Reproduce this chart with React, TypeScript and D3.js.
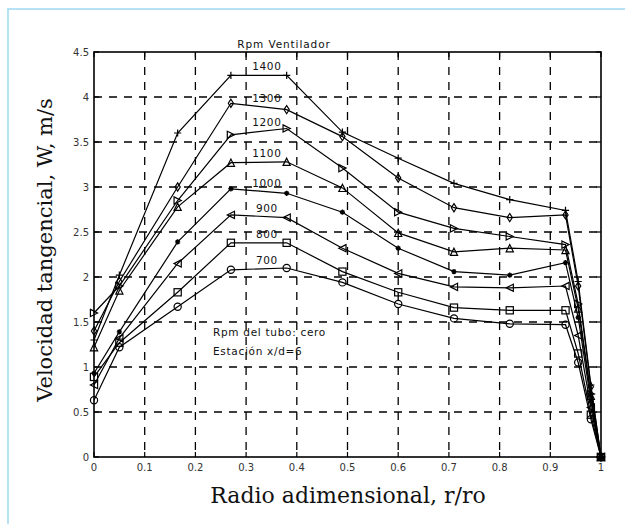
import * as d3 from "d3";

// r/ro stations
const radius = [0, 0.05, 0.165, 0.27, 0.38, 0.49, 0.6, 0.71, 0.82, 0.93, 0.955, 0.98, 1.0];

// fan rpm series
const rpmLabels = ["1400", "1300", "1200", "1100", "1000", "900", "800", "700"];
const markers = ["+", "d", ">", "^", "*", "<", "s", "o"];

const v1400 = [1.3, 2.02, 3.6, 4.24, 4.24, 3.61, 3.32, 3.04, 2.86, 2.74, 1.95, 0.8, 0];
const v1300 = [1.4, 1.95, 3.0, 3.93, 3.86, 3.56, 3.1, 2.77, 2.66, 2.69, 1.9, 0.78, 0];
const v1200 = [1.6, 1.9, 2.85, 3.58, 3.65, 3.21, 2.72, 2.54, 2.45, 2.36, 1.7, 0.7, 0];
const v1100 = [1.22, 1.85, 2.78, 3.27, 3.28, 2.99, 2.49, 2.28, 2.32, 2.3, 1.65, 0.68, 0];
const v1000 = [0.93, 1.39, 2.39, 2.98, 2.93, 2.72, 2.32, 2.06, 2.02, 2.16, 1.55, 0.62, 0];
const v900 = [0.8, 1.32, 2.15, 2.69, 2.66, 2.32, 2.04, 1.89, 1.88, 1.9, 1.35, 0.55, 0];
const v800 = [0.89, 1.27, 1.83, 2.38, 2.38, 2.06, 1.83, 1.66, 1.63, 1.63, 1.15, 0.47, 0];
const v700 = [0.63, 1.22, 1.67, 2.08, 2.1, 1.94, 1.7, 1.54, 1.48, 1.47, 1.05, 0.42, 0];

const series = [v1400, v1300, v1200, v1100, v1000, v900, v800, v700];

const xTicks = [0, 0.1, 0.2, 0.3, 0.4, 0.5, 0.6, 0.7, 0.8, 0.9, 1];
const yTicks = [0, 0.5, 1, 1.5, 2, 2.5, 3, 3.5, 4, 4.5];

const W = 625;
const H = 524;
const left = 94;
const right = 601;
const top = 52;
const bottom = 457;

const x = d3.scaleLinear().domain([0, 1]).range([left, right]);
const y = d3.scaleLinear().domain([0, 4.5]).range([bottom, top]);

const sans = "DejaVu Sans, sans-serif";
const serif = "DejaVu Serif, serif";

function Marker({ type, cx, cy }: { type: string; cx: number; cy: number }) {
  const s = 3.6;
  const common = { fill: "none", stroke: "#000", strokeWidth: 1.2 };
  switch (type) {
    case "+":
      return <path d={`M${cx - s},${cy}H${cx + s}M${cx},${cy - s}V${cy + s}`} {...common} />;
    case "d":
      return <path d={`M${cx},${cy - s - 0.5}L${cx + s - 1},${cy}L${cx},${cy + s + 0.5}L${cx - s + 1},${cy}Z`} {...common} />;
    case ">":
      return <path d={`M${cx - s},${cy - s}L${cx + s},${cy}L${cx - s},${cy + s}Z`} {...common} />;
    case "<":
      return <path d={`M${cx + s},${cy - s}L${cx - s},${cy}L${cx + s},${cy + s}Z`} {...common} />;
    case "^":
      return <path d={`M${cx},${cy - s}L${cx + s},${cy + s}L${cx - s},${cy + s}Z`} {...common} />;
    case "s":
      return <rect x={cx - s} y={cy - s} width={2 * s} height={2 * s} {...common} />;
    case "o":
      return <circle cx={cx} cy={cy} r={s} {...common} />;
    default: {
      const t = 2.6;
      return (
        <path
          d={`M${cx - t},${cy}H${cx + t}M${cx},${cy - t}V${cy + t}M${cx - t * 0.7},${cy - t * 0.7}L${cx + t * 0.7},${cy + t * 0.7}M${cx - t * 0.7},${cy + t * 0.7}L${cx + t * 0.7},${cy - t * 0.7}`}
          fill="none"
          stroke="#000"
          strokeWidth={1.4}
        />
      );
    }
  }
}

export default function App() {
  const line = d3
    .line<number>()
    .x((_, i) => x(radius[i]))
    .y((d) => y(d));

  return (
    <svg
      width={W}
      height={H}
      viewBox={`0 0 ${W} ${H}`}
      style={{ position: "absolute", left: 0, top: 0, background: "#fff" }}
    >
      {/* page frame */}
      <line x1={7} x2={W} y1={9} y2={9} stroke="#9fd9f3" strokeWidth={1.5} />
      <line x1={8} x2={8} y1={9} y2={H} stroke="#9fd9f3" strokeWidth={1.5} />

      {/* grid */}
      {xTicks.slice(1, -1).map((t) => (
        <line key={"gx" + t} x1={x(t)} x2={x(t)} y1={top} y2={bottom} stroke="#000" strokeWidth={1.3} strokeDasharray="8,7" />
      ))}
      {yTicks.slice(1, -1).map((t) => (
        <line key={"gy" + t} x1={left} x2={right} y1={y(t)} y2={y(t)} stroke="#000" strokeWidth={1.3} strokeDasharray="8,7" />
      ))}

      {/* series */}
      {series.map((s, si) => (
        <g key={rpmLabels[si]}>
          <path d={line(s) ?? ""} fill="none" stroke="#000" strokeWidth={1.2} />
          {s.map((v, i) => (
            <Marker key={i} type={markers[si]} cx={x(radius[i])} cy={y(v)} />
          ))}
          <text
            x={x(0.341)}
            y={d3.interpolateNumber(y(s[3]), y(s[4]))(0.65) - 5}
            textAnchor="middle"
            fontFamily={sans}
            fontSize={10.5}
            letterSpacing={0.6}
            fill="#111"
          >
            {rpmLabels[si]}
          </text>
        </g>
      ))}

      {/* axes box */}
      <rect x={left} y={top} width={right - left} height={bottom - top} fill="none" stroke="#000" strokeWidth={1.6} />
      {xTicks.map((t) => (
        <g key={"tx" + t}>
          <line x1={x(t)} x2={x(t)} y1={bottom} y2={bottom - 5} stroke="#000" strokeWidth={1.2} />
          <line x1={x(t)} x2={x(t)} y1={top} y2={top + 5} stroke="#000" strokeWidth={1.2} />
          <text x={x(t)} y={bottom + 14} textAnchor="middle" fontFamily={sans} fontSize={10} fill="#333">
            {t}
          </text>
        </g>
      ))}
      {yTicks.map((t) => (
        <g key={"ty" + t}>
          <line x1={left} x2={left + 5} y1={y(t)} y2={y(t)} stroke="#000" strokeWidth={1.2} />
          <line x1={right} x2={right - 5} y1={y(t)} y2={y(t)} stroke="#000" strokeWidth={1.2} />
          <text x={left - 5} y={y(t) + 3.5} textAnchor="end" fontFamily={sans} fontSize={10} fill="#333">
            {t}
          </text>
        </g>
      ))}

      {/* annotations */}
      <text x={284} y={48} textAnchor="middle" fontFamily={sans} fontSize={10.5} letterSpacing={0.9} fill="#111">
        Rpm Ventilador
      </text>
      <text x={213} y={336} fontFamily={sans} fontSize={10.5} letterSpacing={0.7} fill="#111">
        Rpm del  tubo: cero
      </text>
      <text x={213} y={355} fontFamily={sans} fontSize={10.5} letterSpacing={0.7} fill="#111">
        Estación x/d=6
      </text>

      {/* axis titles */}
      <text x={348} y={503} textAnchor="middle" fontFamily={serif} fontSize={22} fill="#111">
        Radio adimensional, r/ro
      </text>
      <text
        transform={`translate(52,250) rotate(-90)`}
        textAnchor="middle"
        fontFamily={serif}
        fontSize={21}
        fill="#111"
      >
        Velocidad tangencial, W, m/s
      </text>
    </svg>
  );
}
